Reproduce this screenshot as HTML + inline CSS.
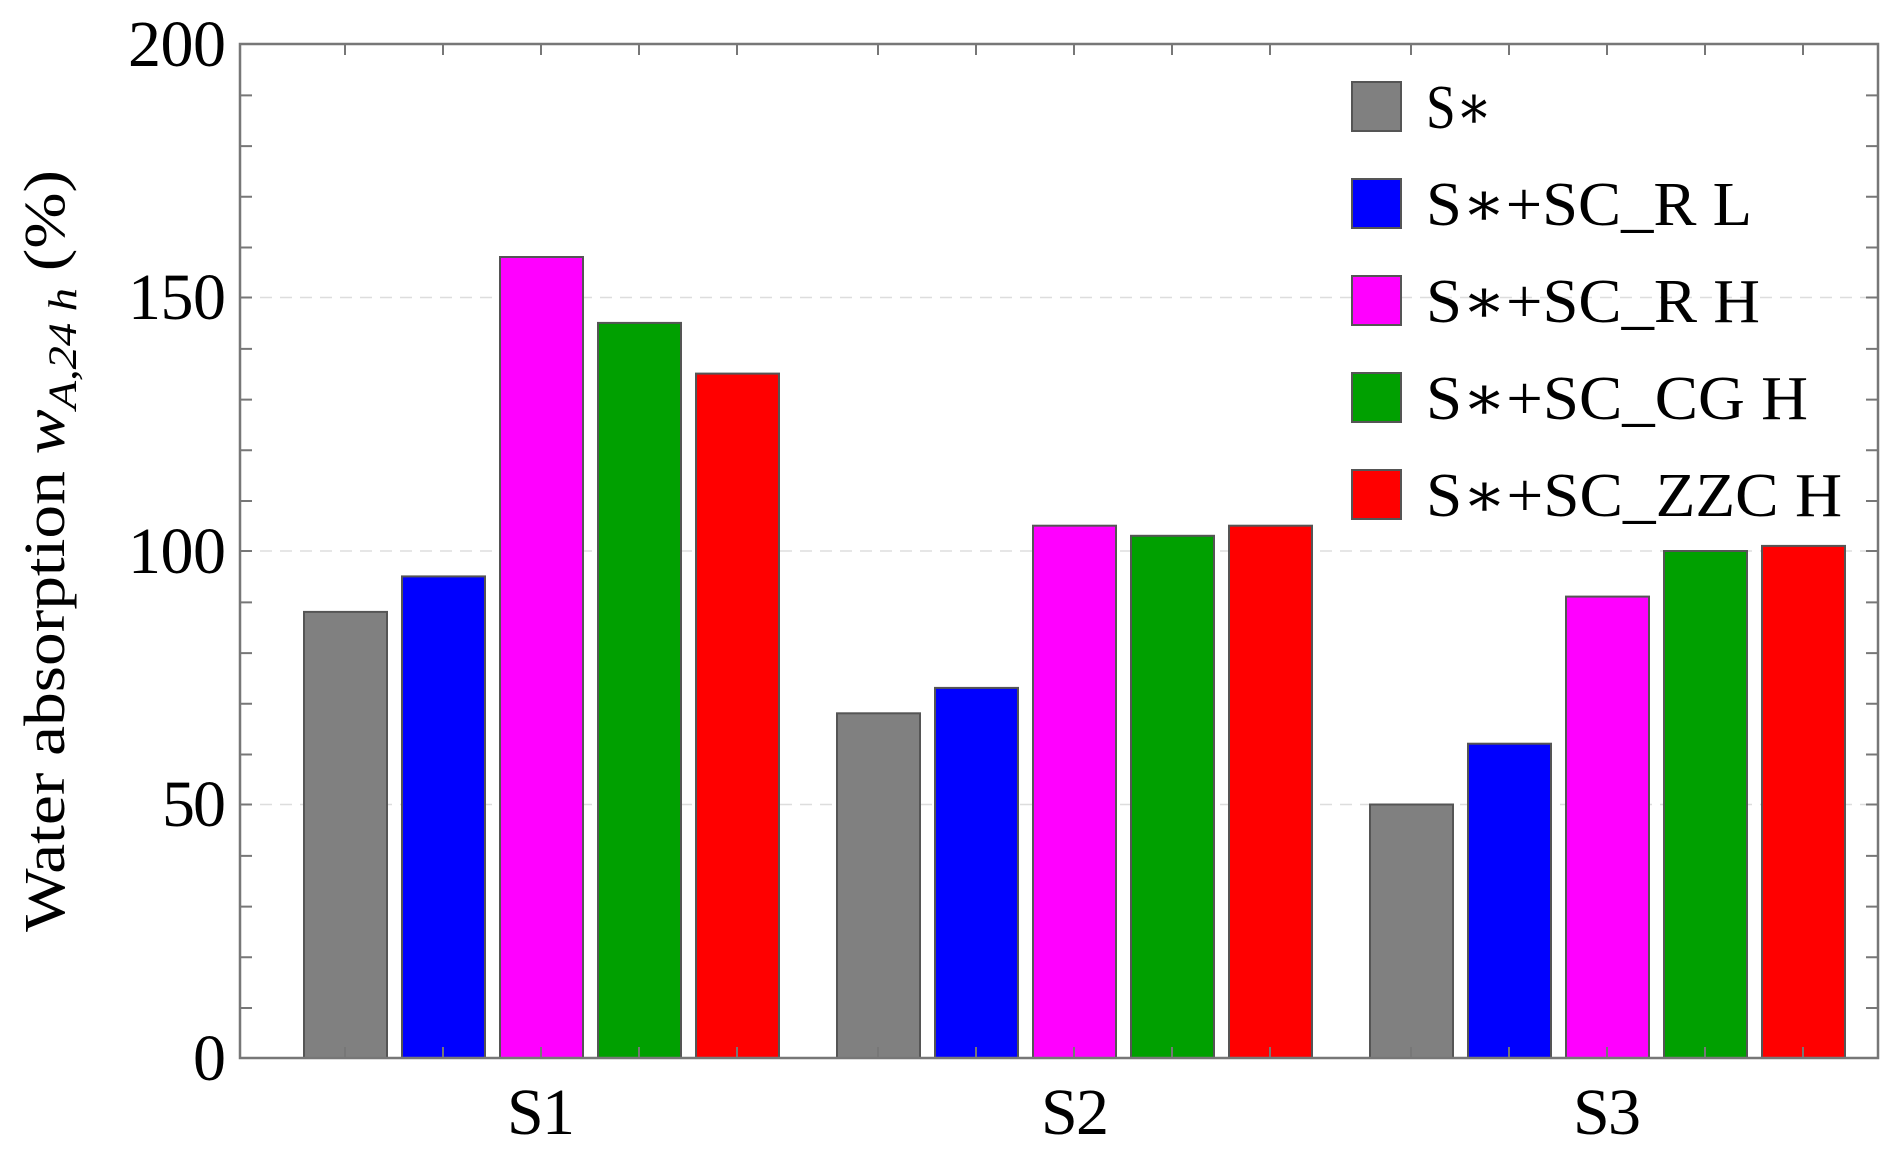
<!DOCTYPE html>
<html><head><meta charset="utf-8"><style>html,body{margin:0;padding:0;background:#fff}svg text{font-family:"Liberation Serif","DejaVu Serif",serif}</style></head><body>
<svg width="1902" height="1162" xmlns="http://www.w3.org/2000/svg">
<g id="grid" stroke="#ddd" stroke-width="1.5" stroke-dasharray="12,8">
<line x1="240" x2="1878" y1="804.5" y2="804.5"/>
<line x1="240" x2="1878" y1="551" y2="551"/>
<line x1="240" x2="1878" y1="297.5" y2="297.5"/>
</g>
<g id="bars" stroke="#555" stroke-width="2">
<rect x="304" y="611.9" width="83" height="446.1" fill="#808080"/>
<rect x="402" y="576.4" width="83" height="481.6" fill="#0000ff"/>
<rect x="500" y="257" width="83" height="801" fill="#ff00ff"/>
<rect x="598" y="322.9" width="83" height="735.1" fill="#00a000"/>
<rect x="696" y="373.6" width="83" height="684.4" fill="#ff0000"/>
<rect x="837" y="713.3" width="83" height="344.7" fill="#808080"/>
<rect x="935" y="687.9" width="83" height="370.1" fill="#0000ff"/>
<rect x="1033" y="525.7" width="83" height="532.3" fill="#ff00ff"/>
<rect x="1131" y="535.8" width="83" height="522.2" fill="#00a000"/>
<rect x="1229" y="525.7" width="83" height="532.3" fill="#ff0000"/>
<rect x="1370" y="804.5" width="83" height="253.5" fill="#808080"/>
<rect x="1468" y="743.7" width="83" height="314.3" fill="#0000ff"/>
<rect x="1566" y="596.6" width="83" height="461.4" fill="#ff00ff"/>
<rect x="1664" y="551" width="83" height="507" fill="#00a000"/>
<rect x="1762" y="545.9" width="83" height="512.1" fill="#ff0000"/>
</g>
<g id="axes" stroke="#777" stroke-width="2.5" fill="none">
<rect x="240" y="44" width="1638" height="1014"/>
<path stroke-width="2" d="
M240 95.4h12 M240 146.1h12 M240 196.8h12 M240 247.5h12 M240 297.5h12 M240 348.9h12 M240 399.6h12 M240 450.3h12 M240 501h12 M240 551h12 M240 602.4h12 M240 653.1h12 M240 703.8h12 M240 754.5h12 M240 804.5h12 M240 855.9h12 M240 906.6h12 M240 957.3h12 M240 1008h12
M1878 95.4h-12 M1878 146.1h-12 M1878 196.8h-12 M1878 247.5h-12 M1878 297.5h-12 M1878 348.9h-12 M1878 399.6h-12 M1878 450.3h-12 M1878 501h-12 M1878 551h-12 M1878 602.4h-12 M1878 653.1h-12 M1878 703.8h-12 M1878 754.5h-12 M1878 804.5h-12 M1878 855.9h-12 M1878 906.6h-12 M1878 957.3h-12 M1878 1008h-12
M345 44v11 M443 44v11 M541 44v11 M639 44v11 M737 44v11 M878 44v11 M976 44v11 M1074 44v11 M1172 44v11 M1270 44v11 M1411 44v11 M1509 44v11 M1607 44v11 M1705 44v11 M1803 44v11
M345 1058v-11 M443 1058v-11 M541 1058v-11 M639 1058v-11 M737 1058v-11 M878 1058v-11 M976 1058v-11 M1074 1058v-11 M1172 1058v-11 M1270 1058v-11 M1411 1058v-11 M1509 1058v-11 M1607 1058v-11 M1705 1058v-11 M1803 1058v-11"/>
</g>
<g font-size="66" text-anchor="end" fill="#000">
<text x="226" y="1080" textLength="30">0</text>
<text x="226" y="826" textLength="64">50</text>
<text x="226" y="573" textLength="98">100</text>
<text x="226" y="319" textLength="98">150</text>
<text x="226" y="66" textLength="98">200</text>
</g>
<g font-size="66" fill="#000">
<text x="507" y="1134" textLength="68">S1</text>
<text x="1041" y="1134" textLength="68">S2</text>
<text x="1573" y="1134" textLength="68">S3</text>
</g>
<text transform="translate(64,932) rotate(-90)" font-size="58" fill="#000" textLength="762" lengthAdjust="spacingAndGlyphs">Water absorption <tspan font-style="italic">w</tspan><tspan font-style="italic" font-size="40" dy="12">A,24 h</tspan><tspan dy="-12"> (%)</tspan></text>
<g stroke="#555" stroke-width="2">
<rect x="1352" y="82" width="49" height="49" fill="#808080"/>
<rect x="1352" y="179" width="49" height="49" fill="#0000ff"/>
<rect x="1352" y="276" width="49" height="49" fill="#ff00ff"/>
<rect x="1352" y="373" width="49" height="49" fill="#00a000"/>
<rect x="1352" y="470" width="49" height="49" fill="#ff0000"/>
</g>
<g font-size="62" fill="#000" lengthAdjust="spacingAndGlyphs">
<text x="1426" y="128" textLength="66" lengthAdjust="spacingAndGlyphs">S∗</text>
<text x="1426" y="225" textLength="326" lengthAdjust="spacingAndGlyphs">S∗+SC_R L</text>
<text x="1426" y="322" textLength="334" lengthAdjust="spacingAndGlyphs">S∗+SC_R H</text>
<text x="1426" y="419" textLength="382" lengthAdjust="spacingAndGlyphs">S∗+SC_CG H</text>
<text x="1426" y="516" textLength="416" lengthAdjust="spacingAndGlyphs">S∗+SC_ZZC H</text>
</g>
</svg>
</body></html>
